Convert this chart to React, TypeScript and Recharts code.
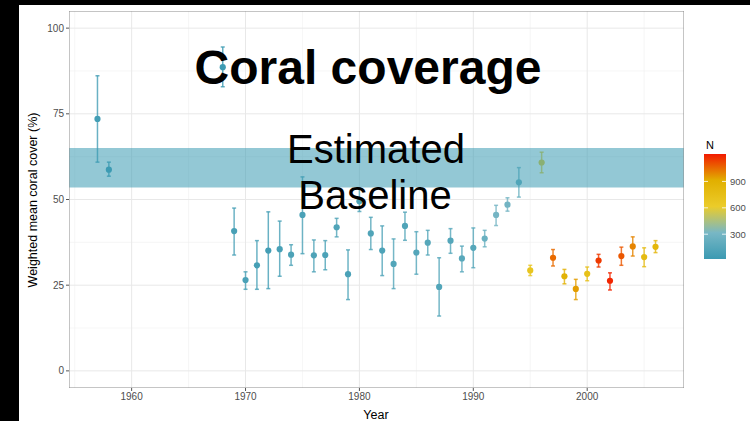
import React from "react";
import {
  ComposedChart,
  Scatter,
  ErrorBar,
  XAxis,
  YAxis,
  CartesianGrid,
  ReferenceArea,
} from "recharts";

// Survey years and weighted mean coral cover (%) with their interval bounds
const years = [
  1957, 1958, 1968, 1969, 1970, 1971, 1972, 1973, 1974, 1975, 1976, 1977, 1978,
  1979, 1980, 1981, 1982, 1983, 1984, 1985, 1986, 1987, 1988, 1989, 1990, 1991,
  1992, 1993, 1994, 1995, 1996, 1997, 1998, 1999, 2000, 2001, 2002, 2003, 2004,
  2005, 2006,
];
const cover = [
  73.5, 58.7, 88.6, 40.8, 26.5, 30.8, 35.1, 35.5, 33.9, 45.5, 33.7, 33.8, 41.9,
  28.2, 49.5, 40.1, 35.1, 31.2, 42.3, 34.5, 37.4, 24.5, 38.0, 32.8, 35.9, 38.6,
  45.5, 48.5, 55.0, 29.3, 60.8, 33.0, 27.6, 23.9, 28.3, 32.2, 26.3, 33.5, 36.3,
  33.2, 36.2,
];
const lower = [
  60.9, 56.8, 82.9, 33.8, 23.8, 23.8, 24.0, 27.6, 30.8, 34.2, 28.9, 29.5, 39.1,
  20.8, 46.5, 35.4, 27.8, 24.0, 38.1, 28.2, 33.8, 16.0, 34.3, 28.9, 30.1, 36.2,
  42.4, 46.6, 50.7, 27.8, 57.8, 30.6, 25.4, 20.8, 26.3, 30.3, 23.6, 30.8, 33.5,
  30.4, 34.5,
];
const upper = [
  86.1, 60.9, 94.5, 47.5, 28.9, 38.0, 46.4, 43.7, 36.8, 56.6, 38.2, 38.0, 44.5,
  35.3, 53.0, 44.8, 42.3, 38.5, 46.3, 40.6, 41.0, 33.0, 41.5, 36.4, 41.7, 41.0,
  48.3, 50.5, 59.3, 30.8, 63.8, 35.4, 29.6, 26.7, 30.3, 34.0, 28.6, 36.1, 39.1,
  35.9, 38.0,
];
// Number of surveys behind each yearly estimate
const sampleN = [
  60, 40, 30, 80, 90, 70, 60, 80, 100, 90, 110, 100, 120, 90, 100, 120, 110,
  130, 120, 140, 150, 130, 140, 160, 150, 250, 300, 290, 260, 690, 640, 1050,
  880, 950, 730, 1150, 1190, 1090, 1000, 790, 830,
];

const xTicks = [1960, 1970, 1980, 1990, 2000];
const xMinor = [1955, 1965, 1975, 1985, 1995, 2005];
const yTicks = [0, 25, 50, 75, 100];
const yMinor = [12.5, 37.5, 62.5, 87.5];
const legendTicks = [300, 600, 900];

// Estimated baseline band (% cover)
const baselineLow = 53.5;
const baselineHigh = 65;

const X_DOMAIN: [number, number] = [1954.5, 2008.5];
const Y_DOMAIN: [number, number] = [-5, 105];

// Colour scale for N
const palette = ["#3B9AB2", "#78B7C5", "#EBCC2A", "#E1AF00", "#F21A00"];
const N_MIN = 18;
const N_MAX = 1212;

function hexToRgb(h: string): number[] {
  const v = parseInt(h.slice(1), 16);
  return [(v >> 16) & 255, (v >> 8) & 255, v & 255];
}

function colourFor(n: number): string {
  const t = Math.max(0, Math.min(1, (n - N_MIN) / (N_MAX - N_MIN)));
  const pos = t * (palette.length - 1);
  const i = Math.min(palette.length - 2, Math.floor(pos));
  const f = pos - i;
  const a = hexToRgb(palette[i]);
  const b = hexToRgb(palette[i + 1]);
  const c = a.map((v, k) => Math.round(v + (b[k] - v) * f));
  return `rgb(${c[0]},${c[1]},${c[2]})`;
}

const points = years.map((year, i) => ({
  year,
  value: cover[i],
  err: [cover[i] - lower[i], upper[i] - cover[i]],
  colour: colourFor(sampleN[i]),
}));

const FONT = "'Liberation Sans', Arial, Helvetica, sans-serif";

// Colour bar geometry
const BAR_X = 704;
const BAR_Y = 154;
const BAR_W = 22;
const BAR_H = 105;
const legendY = (v: number) => BAR_Y + BAR_H - ((v - N_MIN) / (N_MAX - N_MIN)) * BAR_H;

export default function App() {
  return (
    <div
      style={{
        position: "fixed",
        left: 0,
        top: 0,
        width: 750,
        height: 421,
        background: "#000",
        overflow: "hidden",
        fontFamily: FONT,
      }}
    >
      <div
        style={{
          position: "absolute",
          left: 19,
          top: 5,
          right: 0,
          bottom: 0,
          background: "#fff",
        }}
      />
      <div style={{ position: "absolute", left: 0, top: 0 }}>
        <ComposedChart
          width={750}
          height={421}
          margin={{ top: 11, right: 66, bottom: 13, left: 29 }}
        >
          <CartesianGrid
            stroke="#f0f0f0"
            strokeWidth={0.6}
            verticalValues={xMinor}
            horizontalValues={yMinor}
          />
          <CartesianGrid
            stroke="#e8e8e8"
            strokeWidth={1}
            verticalValues={xTicks}
            horizontalValues={yTicks}
          />
          <XAxis
            type="number"
            dataKey="year"
            domain={X_DOMAIN}
            ticks={xTicks}
            allowDataOverflow
            axisLine={false}
            tickSize={3}
            tickMargin={2}
            tickLine={{ stroke: "#555" }}
            tick={{ fontSize: 10, fill: "#4d4d4d", fontFamily: FONT }}
            height={20}
          />
          <YAxis
            type="number"
            dataKey="value"
            domain={Y_DOMAIN}
            ticks={yTicks}
            allowDataOverflow
            axisLine={false}
            tickSize={3}
            tickMargin={2}
            tickLine={{ stroke: "#555" }}
            tick={{ fontSize: 10, fill: "#4d4d4d", fontFamily: FONT }}
            width={40}
          />
          {points.map((p) => (
            <Scatter
              key={p.year}
              name={String(p.year)}
              data={[p]}
              dataKey="value"
              fill={p.colour}
              isAnimationActive={false}
              shape={(props: any) => (
                <circle cx={props.cx} cy={props.cy} r={3.1} fill={p.colour} />
              )}
            >
              <ErrorBar
                dataKey="err"
                direction="y"
                width={2}
                stroke={p.colour}
                strokeWidth={1.5}
                strokeOpacity={0.8}
                isAnimationActive={false}
              />
            </Scatter>
          ))}
          {/* translucent baseline band laid over the points */}
          <ReferenceArea
            x1={X_DOMAIN[0]}
            x2={X_DOMAIN[1]}
            y1={baselineLow}
            y2={baselineHigh}
            fill="#3B9AB2"
            fillOpacity={0.55}
            stroke="none"
            ifOverflow="hidden"
            zIndex={900}
          />
          <ReferenceArea
            x1={X_DOMAIN[0]}
            x2={X_DOMAIN[1]}
            y1={Y_DOMAIN[0]}
            y2={Y_DOMAIN[1]}
            fill="none"
            stroke="#8a8a8a"
            strokeWidth={1}
            ifOverflow="hidden"
            zIndex={900}
          />
        </ComposedChart>
      </div>
      <svg
        width={750}
        height={421}
        style={{ position: "absolute", left: 0, top: 0, pointerEvents: "none" }}
        fontFamily={FONT}
      >
        <text x={368} y={84} textAnchor="middle" fontSize={48} fontWeight="bold" fill="#000">
          Coral coverage
        </text>
        <text x={376} y={163} textAnchor="middle" fontSize={40} fill="#000">
          Estimated
        </text>
        <text x={375} y={209} textAnchor="middle" fontSize={40} fill="#000">
          Baseline
        </text>
        <text
          x={0}
          y={0}
          transform="translate(36.5,200) rotate(-90)"
          textAnchor="middle"
          fontSize={12.5}
          fill="#000"
        >
          Weighted mean coral cover (%)
        </text>
        <text x={376} y={418.5} textAnchor="middle" fontSize={12.5} fill="#000">
          Year
        </text>
        <defs>
          <linearGradient id="nbar" x1="0" y1="1" x2="0" y2="0">
            {palette.map((c, i) => (
              <stop key={c} offset={i / (palette.length - 1)} stopColor={c} />
            ))}
          </linearGradient>
        </defs>
        <text x={706} y={149} fontSize={11} fill="#000">
          N
        </text>
        <rect x={BAR_X} y={BAR_Y} width={BAR_W} height={BAR_H} fill="url(#nbar)" />
        {legendTicks.map((v) => (
          <g key={v}>
            <line x1={BAR_X} x2={BAR_X + 4} y1={legendY(v)} y2={legendY(v)} stroke="#fff" strokeWidth={0.8} />
            <line x1={BAR_X + BAR_W - 4} x2={BAR_X + BAR_W} y1={legendY(v)} y2={legendY(v)} stroke="#fff" strokeWidth={0.8} />
            <text x={730} y={legendY(v)} dy="0.35em" fontSize={9.5} fill="#4d4d4d">
              {v}
            </text>
          </g>
        ))}
      </svg>
    </div>
  );
}
